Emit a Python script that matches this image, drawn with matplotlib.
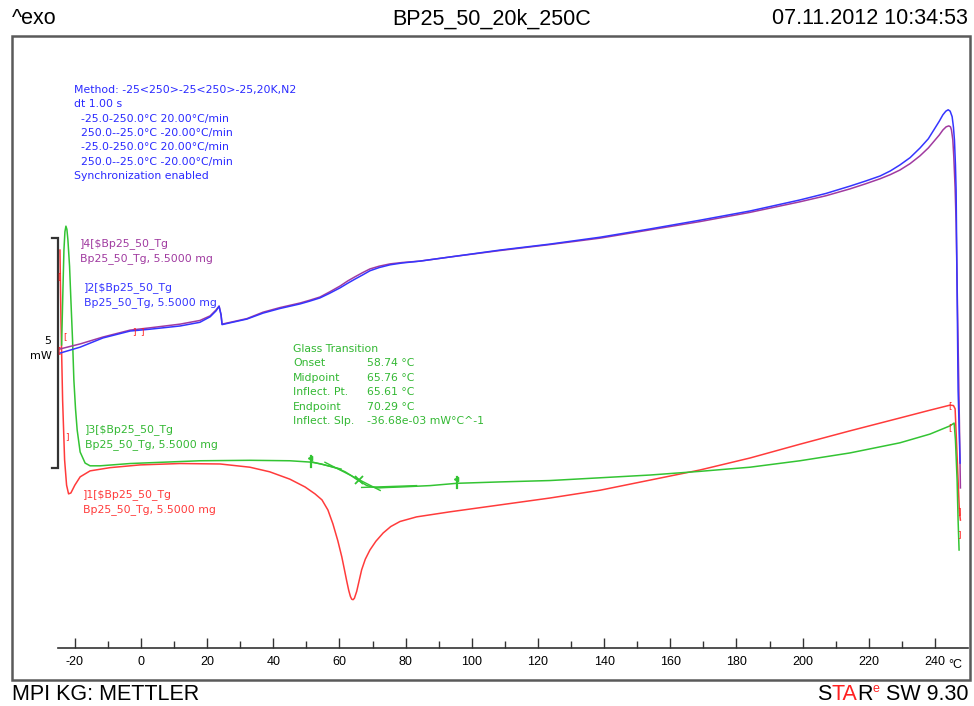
import numpy as np
import matplotlib
matplotlib.use("Agg")
import matplotlib.pyplot as plt
from matplotlib.patches import Rectangle
from matplotlib.ticker import FixedLocator, NullFormatter

plt.rcParams["axes.unicode_minus"] = False

# ---- measured curves (temperature in degC, heat flow in mW, arbitrary offset) ----
red_T = [-24.5, -24.2, -23.7, -23.1, -22.5, -21.9, -21.2, -20.0, -18.4, -15.4, -9.4, -0.3,
         11.8, 23.9, 32.9, 38.9, 45.0, 49.6, 52.6, 54.7, 56.5, 58.0, 59.5, 60.7, 61.5, 62.2,
         62.8, 63.3, 63.7, 64.1, 64.5, 65.2, 65.9, 66.7, 67.8, 69.2, 71.0, 73.2, 75.5, 78.3,
         83.3, 93.4, 108.5, 123.6, 138.8, 153.9, 169.0, 184.1, 199.2, 214.3, 229.4, 238.5,
         244.6, 245.6, 246.1, 246.5, 247.0, 247.4, 247.7]
red_mW = [8.65, 7.13, 5.39, 4.09, 3.54, 3.35, 3.37, 3.54, 3.72, 3.85, 3.92, 3.98,
          4.01, 4.00, 3.93, 3.83, 3.67, 3.50, 3.35, 3.22, 3.00, 2.70, 2.33, 1.98, 1.70, 1.45,
          1.25, 1.12, 1.06, 1.05, 1.08, 1.23, 1.45, 1.70, 1.93, 2.13, 2.32, 2.50, 2.64, 2.75,
          2.85, 2.96, 3.11, 3.26, 3.43, 3.65, 3.87, 4.13, 4.43, 4.72, 5.00, 5.17,
          5.28, 5.27, 5.20, 4.52, 3.65, 2.96, 2.78]

blue_T = [-24.5, -18.4, -11.5, -3.3, 2.7, 11.8, 17.8, 20.9, 22.7, 23.6, 24.2, 24.5, 32.0,
          36.9, 42.0, 48.1, 51.0, 54.1, 57.0, 60.2, 62.5, 64.7, 67.0, 69.2, 72.0, 75.3, 79.0,
          84.3, 93.4, 108.5, 123.6, 138.8, 153.9, 169.0, 184.1, 199.2, 207.0, 214.3, 219.0,
          223.4, 226.5, 229.4, 232.5, 235.5, 238.0, 240.0, 241.3, 242.4, 243.3, 244.0, 244.6,
          245.2, 245.6, 245.9, 246.2, 246.4, 246.7, 247.0, 247.6]
blue_mW = [6.41, 6.54, 6.74, 6.89, 6.93, 7.00, 7.08, 7.20, 7.33, 7.43, 7.24, 7.03, 7.15,
           7.28, 7.38, 7.48, 7.54, 7.61, 7.71, 7.83, 7.93, 8.02, 8.11, 8.20, 8.27, 8.33, 8.37,
           8.41, 8.50, 8.65, 8.78, 8.93, 9.11, 9.30, 9.50, 9.74, 9.88, 10.04, 10.15,
           10.26, 10.37, 10.50, 10.66, 10.87, 11.07, 11.30, 11.45, 11.59, 11.67, 11.70, 11.67,
           11.55, 11.32, 11.04, 10.50, 9.96, 7.78, 5.61, 4.02]

purple_T = [-24.5, -18.4, -11.5, -3.3, 2.7, 11.8, 17.8, 20.9, 22.7, 23.6, 24.2, 24.5, 32.0,
            36.9, 42.0, 48.1, 51.0, 54.1, 57.0, 60.2, 62.5, 64.7, 67.0, 69.2, 72.0, 75.3, 79.0,
            84.3, 93.4, 108.5, 123.6, 138.8, 153.9, 169.0, 184.1, 199.2, 207.0, 214.3, 219.0,
            223.4, 226.5, 229.4, 232.5, 235.5, 238.0, 240.0, 241.3, 242.4, 243.4, 244.2, 244.7,
            245.0, 245.4, 245.7, 246.1, 246.4, 246.9, 247.4, 247.7]
purple_mW = [6.50, 6.61, 6.76, 6.91, 6.96, 7.04, 7.12, 7.22, 7.35, 7.43, 7.24, 7.04, 7.16,
             7.30, 7.40, 7.50, 7.56, 7.63, 7.74, 7.87, 7.98, 8.07, 8.16, 8.24, 8.30, 8.35, 8.38,
             8.41, 8.50, 8.64, 8.77, 8.91, 9.09, 9.27, 9.47, 9.70, 9.83, 9.98, 10.09,
             10.20, 10.29, 10.39, 10.53, 10.70, 10.87, 11.04, 11.15, 11.26, 11.33, 11.35, 11.33,
             11.26, 11.05, 10.68, 10.00, 9.24, 7.07, 4.89, 3.48]

green_T = [-24.0, -23.6, -23.3, -23.0, -22.7, -22.4, -22.1, -21.6, -21.2, -20.7, -20.3,
           -19.8, -19.3, -18.4, -16.9, -15.4, -12.4, -3.3, 17.8, 32.9, 45.0, 51.4, 54.5,
           57.1, 59.5, 61.7, 63.5, 65.3, 66.9, 68.3, 69.9, 71.6, 74.5, 78.3, 87.4, 95.5, 108.5,
           123.6, 138.8, 153.9, 169.0, 184.1, 199.2, 214.3, 229.4, 238.5, 244.6, 245.8, 246.2,
           246.7, 247.0, 247.3]
green_mW = [6.59, 7.80, 8.65, 9.05, 9.17, 9.10, 8.87, 8.30, 7.57, 6.70, 5.83,
            5.20, 4.74, 4.26, 4.02, 3.96, 3.96, 4.01, 4.07, 4.08, 4.07, 4.04, 4.00,
            3.95, 3.90, 3.83, 3.75, 3.66, 3.59, 3.53, 3.50, 3.48, 3.49, 3.50, 3.53, 3.58, 3.61,
            3.64, 3.70, 3.76, 3.84, 3.93, 4.07, 4.24, 4.46, 4.65, 4.83, 4.89, 4.52,
            3.65, 2.78, 2.13]

# ---- glass transition evaluation on curve 3 ----
tg_onset, tg_mid, tg_inflect, tg_end = 58.74, 65.76, 65.61, 70.29
tg_slope = -36.68e-03          # mW/degC
tg_limits = [51.4, 95.5]       # evaluation limits
tg_inflect_mW = 3.67
tg_mid_mW = 3.66

method_lines = ["Method: -25<250>-25<250>-25,20K,N2",
                "dt 1.00 s",
                "  -25.0-250.0\u00b0C 20.00\u00b0C/min",
                "  250.0--25.0\u00b0C -20.00\u00b0C/min",
                "  -25.0-250.0\u00b0C 20.00\u00b0C/min",
                "  250.0--25.0\u00b0C -20.00\u00b0C/min",
                "Synchronization enabled"]
tg_names = ["Onset", "Midpoint", "Inflect. Pt.", "Endpoint", "Inflect. Slp."]
tg_values = ["%.2f \u00b0C" % tg_onset, "%.2f \u00b0C" % tg_mid, "%.2f \u00b0C" % tg_inflect,
             "%.2f \u00b0C" % tg_end, "-36.68e-03 mW\u00b0C^-1"]

x_major = list(range(-20, 241, 20))
x_minor = list(range(-10, 241, 20))
scale_mW = 5
scale_bottom = 3.91

RED, BLUE, PURPLE, GREEN = "#ff3b3b", "#3535ff", "#a03aa0", "#33c433"
TXT_BLUE, TXT_GREEN = "#2a2aff", "#33b833"

W, H = 974, 706
fig = plt.figure(figsize=(W / 100, H / 100), dpi=100)
fig.patch.set_facecolor("white")


def fx(px):
    return px / W


def fy(py):
    return 1 - py / H


# plotting area inside the frame
ax = fig.add_axes([fx(12), fy(680), fx(970) - fx(12), fy(36) - fy(680)])
ax.set_xlim(-39.0, 250.6)
ax.set_ylim(-0.696, 13.304)
ax.patch.set_alpha(0)
for s in ("top", "left", "right"):
    ax.spines[s].set_visible(False)
ax.spines["bottom"].set_position(("data", 0))
ax.spines["bottom"].set_bounds(-25, 250)
ax.spines["bottom"].set_color("#333333")
ax.spines["bottom"].set_linewidth(1.2)
ax.yaxis.set_visible(False)
ax.xaxis.set_major_locator(FixedLocator(x_major))
ax.xaxis.set_minor_locator(FixedLocator(x_minor))
ax.xaxis.set_minor_formatter(NullFormatter())
ax.tick_params(axis="x", which="major", direction="in", length=7, width=1.0,
               color="#333333", pad=6, labelsize=9)
ax.tick_params(axis="x", which="minor", direction="in", length=5, width=1.0, color="#333333")
for lab in ax.get_xticklabels():
    lab.set_family(["Liberation Sans Narrow", "DejaVu Sans Condensed", "Liberation Sans"])

# frame
fig.patches.append(Rectangle((fx(12), fy(680)), fx(970) - fx(12), fy(36) - fy(680),
                             transform=fig.transFigure, fill=False,
                             edgecolor="#5a5a5a", linewidth=1.8))

# curves
lw = 1.1
ax.plot(red_T, red_mW, color=RED, lw=lw)
ax.plot(green_T, green_mW, color=GREEN, lw=lw)
ax.plot(purple_T, purple_mW, color=PURPLE, lw=lw)
ax.plot(blue_T, blue_mW, color=BLUE, lw=lw)

# glass transition construction
t_tan = np.array([55.6, 72.3])
ax.plot(t_tan, tg_inflect_mW + tg_slope * (t_tan - tg_inflect), color=GREEN, lw=1.0)
ax.plot([66.7, 83.3], [3.49, 3.53], color=GREEN, lw=1.0)
ax.plot([51.4, 60.5], [4.05, 3.89], color=GREEN, lw=1.0)
ax.plot([tg_mid], [tg_mid_mW], marker="x", ms=6, mew=1.3, color=GREEN)
for t_lim, y_lim in zip(tg_limits, [4.04, 3.58]):
    ax.plot([t_lim, t_lim], [y_lim - 0.1, y_lim + 0.14], color=GREEN, lw=1.6)
    ax.plot([t_lim - 0.4], [y_lim + 0.1], marker="<", ms=3, color=GREEN)

# 5 mW scale bar
bx, bt = -25.1, -26.9
ax.plot([bt, bx, bx, bt], [scale_bottom + scale_mW, scale_bottom + scale_mW, scale_bottom,
                           scale_bottom], color="#333333", lw=1.6, solid_joinstyle="miter")
fig.text(fx(51), fy(341), str(scale_mW), ha="right", va="center", fontsize=8,
         family="DejaVu Sans")
fig.text(fx(52), fy(356), "mW", ha="right", va="center", fontsize=8, family="DejaVu Sans")

# cursor brackets
for t, y, g in [(-2.1, 6.87, "]"), (0.2, 6.87, "]"), (-24.7, 8.07, "["), (-23.1, 6.76, "["),
                (-24.7, 6.46, "["), (-22.3, 4.59, "]"), (244.6, 5.26, "["), (244.6, 4.78, "["),
                (247.4, 2.96, "]"), (247.4, 2.46, "]")]:
    ax.text(t, y, g, color="#ff2020", fontsize=6.5, ha="center", va="center",
            family="DejaVu Sans")

small = dict(fontsize=7.8, family="DejaVu Sans", va="center", ha="left")
for i, line in enumerate(method_lines):
    fig.text(fx(74), fy(90 + i * 14.35), line, color=TXT_BLUE, **small)

fig.text(fx(293), fy(349), "Glass Transition", color=TXT_GREEN, **small)
for i, (n, v) in enumerate(zip(tg_names, tg_values)):
    fig.text(fx(293), fy(363.5 + i * 14.45), n, color=TXT_GREEN, **small)
    fig.text(fx(367), fy(363.5 + i * 14.45), v, color=TXT_GREEN, **small)

for (x0, y0, num, col) in [(80, 244, 4, PURPLE), (84, 288, 2, BLUE),
                           (85, 430, 3, TXT_GREEN), (83, 495, 1, RED)]:
    fig.text(fx(x0), fy(y0), "]%d[$Bp25_50_Tg" % num, color=col, **small)
    fig.text(fx(x0), fy(y0 + 14.5), "Bp25_50_Tg, 5.5000 mg", color=col, **small)

fig.text(fx(955), fy(665), "\u00b0C", ha="center", va="center", fontsize=9,
         family=["Liberation Sans Narrow", "Liberation Sans", "DejaVu Sans"])

# header and footer
fam = ["Liberation Sans", "DejaVu Sans"]
big = dict(fontsize=15.5, family=fam, va="center")
fig.text(fx(12), fy(19), "^exo", ha="left", **big)
fig.text(fx(492), fy(19), "BP25_50_20k_250C", ha="center", **big)
fig.text(fx(968), fy(19), "07.11.2012 10:34:53", ha="right", **big)
fig.text(fx(12), fy(694), "MPI KG: METTLER", ha="left", **big)

t_sw = fig.text(fx(968), fy(694), " SW 9.30", ha="right", **big)
t_e = ax.annotate("e", xy=(0, 0.45), xycoords=t_sw, color="#ff2020", fontsize=9,
                  family=fam, va="bottom", ha="right", annotation_clip=False)
t_r = ax.annotate("R", xy=(0, 0), xycoords=(t_e, t_sw), color="black", fontsize=15.5,
                  family=fam, va="bottom", ha="right", annotation_clip=False)
t_ta = ax.annotate("TA", xy=(0, 0), xycoords=t_r, color="#ff2020", fontsize=15.5,
                   family=fam, va="bottom", ha="right", annotation_clip=False)
ax.annotate("S", xy=(0, 0), xycoords=t_ta, color="black", fontsize=15.5,
            family=fam, va="bottom", ha="right", annotation_clip=False)

fig.savefig("out.png", dpi=100)
